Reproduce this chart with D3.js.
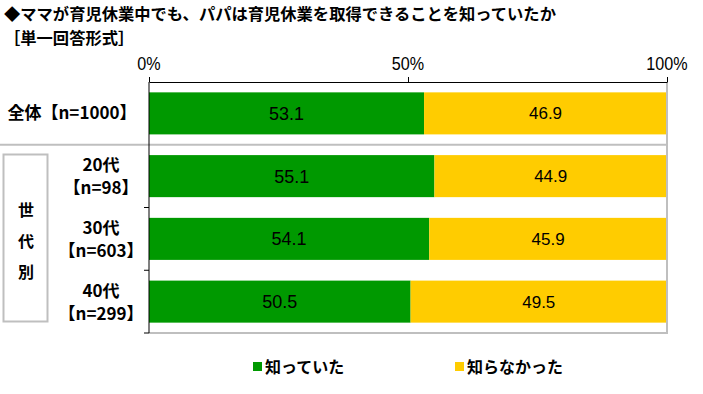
<!DOCTYPE html>
<html>
<head>
<meta charset="utf-8">
<script src="https://cdn.jsdelivr.net/npm/d3@7"></script>
<style>
  body { margin: 0; background: #fff; }
  text { font-family: "Noto Sans CJK JP", sans-serif; }
  .num { font-family: "Liberation Sans", Arial, sans-serif; }
</style>
</head>
<body>
<svg id="chart" width="703" height="394"></svg>
<script>
const rows = ['全体', '20代', '30代', '40代']
const rowLabels = [['全体【n=1000】'], ['20代', '【n=98】'], ['30代', '【n=603】'], ['40代', '【n=299】']]
const knew = [53.1, 55.1, 54.1, 50.5]
const didNotKnow = [46.9, 44.9, 45.9, 49.5]
const seriesNames = ['知っていた', '知らなかった']
const colors = ['#009900', '#ffcc00']
const ticks = [0, 50, 100]

const svg = d3.select('#chart')
const plotLeft = 149, plotRight = 667, plotTop = 82, plotBottom = 333

const x = d3.scaleLinear().domain([0, 100]).range([plotLeft, plotRight])
const y = d3.scaleBand().domain(rows).range([plotTop, plotBottom]).paddingInner(0.33).paddingOuter(0.165)

// title
svg.append('text').attr('x', 4).attr('y', 20)
  .attr('font-size', 16.3).attr('font-weight', 'bold')
  .text('◆ママが育児休業中でも、パパは育児休業を取得できることを知っていたか')
svg.append('text').attr('x', 4).attr('y', 44)
  .attr('font-size', 16.3).attr('font-weight', 'bold')
  .text('［単一回答形式］')

// stacked bars
const stacked = rows.map((r, i) => ({ row: r, vals: [knew[i], didNotKnow[i]] }))
stacked.forEach(d => {
  let acc = 0
  d.vals.forEach((v, j) => {
    const g = svg.append('g')
    g.append('rect')
      .attr('x', x(acc))
      .attr('y', y(d.row))
      .attr('width', x(acc + v) - x(acc))
      .attr('height', y.bandwidth())
      .attr('fill', colors[j])
    g.append('text')
      .attr('class', 'num')
      .attr('x', x(acc + v / 2))
      .attr('y', y(d.row) + y.bandwidth() / 2)
      .attr('dy', '0.36em')
      .attr('text-anchor', 'middle')
      .attr('font-size', j === 0 ? 18 : 17)
      .attr('fill', '#000')
      .text(v.toFixed(1))
    acc += v
  })
})

// frame: right and bottom in gray
svg.append('line').attr('x1', plotRight).attr('x2', plotRight).attr('y1', plotTop).attr('y2', plotBottom)
  .attr('stroke', '#bfbfbf').attr('stroke-width', 2)
svg.append('line').attr('x1', plotLeft).attr('x2', plotRight + 1).attr('y1', plotBottom).attr('y2', plotBottom)
  .attr('stroke', '#bfbfbf').attr('stroke-width', 2)

// separator between total and by-generation
const half = y.step() * y.paddingInner() / 2
const sepY = y(rows[1]) - half
svg.append('line').attr('x1', 0).attr('x2', plotRight).attr('y1', sepY).attr('y2', sepY)
  .attr('stroke', '#bfbfbf').attr('stroke-width', 2)

// top axis
svg.append('g')
  .attr('transform', `translate(0, ${plotTop})`)
  .call(d3.axisTop(x).tickValues(ticks).tickSize(5).tickSizeOuter(0).tickFormat(''))
  .call(g => g.select('.domain').attr('stroke', '#000'))
svg.selectAll('.tick-label').data(ticks).enter().append('text')
  .attr('class', 'num')
  .attr('x', d => x(d))
  .attr('y', 70)
  .attr('text-anchor', 'middle')
  .attr('font-size', 19)
  .attr('transform', d => `translate(${x(d)},0) scale(0.85,1) translate(${-x(d)},0)`)
  .text(d => d + '%')

// left axis
const boundaries = [y(rows[2]) - half, y(rows[3]) - half, plotBottom]
svg.append('line').attr('x1', plotLeft).attr('x2', plotLeft).attr('y1', plotTop).attr('y2', plotBottom)
  .attr('stroke', '#000')
boundaries.forEach(b => {
  svg.append('line').attr('x1', plotLeft - 5).attr('x2', plotLeft).attr('y1', b).attr('y2', b).attr('stroke', '#000')
})

// row labels
rowLabels.forEach((lines, i) => {
  const cy = y(rows[i]) + y.bandwidth() / 2
  const t = svg.append('text')
    .attr('text-anchor', 'middle')
    .attr('font-size', 17)
    .attr('font-weight', 'bold')
  if (lines.length === 1) {
    t.attr('x', 72).attr('y', cy).attr('dy', '0.36em').text(lines[0])
  } else {
    lines.forEach((l, k) => {
      t.append('tspan').attr('x', 101).attr('y', cy + (k === 0 ? -11 : 12)).attr('dy', '0.36em').text(l)
    })
  }
})

// group box
svg.append('rect').attr('x', 3.5).attr('y', 154.5).attr('width', 44).attr('height', 167)
  .attr('fill', 'none').attr('stroke', '#bfbfbf').attr('stroke-width', 2)
;['世', '代', '別'].forEach((c, k) => {
  svg.append('text').attr('x', 26).attr('y', 210 + k * 31).attr('dy', '0.36em')
    .attr('text-anchor', 'middle').attr('font-size', 16).attr('font-weight', 'bold').text(c)
})

// legend
const legendX = [253, 455]
seriesNames.forEach((n, i) => {
  svg.append('rect').attr('x', legendX[i]).attr('y', 362).attr('width', 9).attr('height', 9).attr('fill', colors[i])
  svg.append('text').attr('x', legendX[i] + 12).attr('y', 367).attr('dy', '0.36em')
    .attr('font-size', 16).attr('font-weight', 'bold').text(n)
})
</script>
</body>
</html>
